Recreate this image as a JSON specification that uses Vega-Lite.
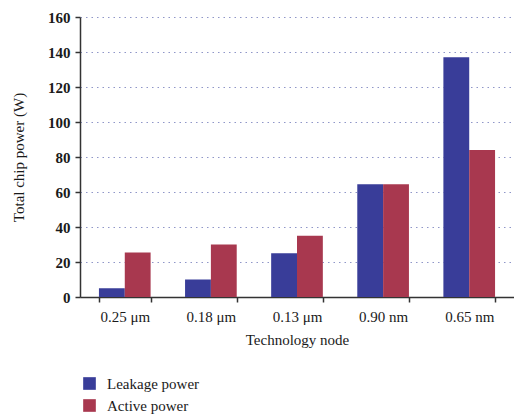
{
  "$schema": "https://vega.github.io/schema/vega-lite/v6.json",
  "autosize": {"type": "none"},
  "width": 434,
  "height": 280,
  "padding": {"left": 80, "top": 17, "right": 0, "bottom": 123},
  "background": "white",
  "data": {
    "values": [
      {"node": "0.25 μm", "series": "Leakage power", "power": 5},
      {"node": "0.25 μm", "series": "Active power", "power": 25.5},
      {"node": "0.18 μm", "series": "Leakage power", "power": 10},
      {"node": "0.18 μm", "series": "Active power", "power": 30},
      {"node": "0.13 μm", "series": "Leakage power", "power": 25},
      {"node": "0.13 μm", "series": "Active power", "power": 35},
      {"node": "0.90 nm", "series": "Leakage power", "power": 64.5},
      {"node": "0.90 nm", "series": "Active power", "power": 64.5},
      {"node": "0.65 nm", "series": "Leakage power", "power": 137},
      {"node": "0.65 nm", "series": "Active power", "power": 84}
    ]
  },
  "mark": {"type": "bar"},
  "encoding": {
    "x": {
      "field": "node",
      "type": "nominal",
      "sort": null,
      "scale": {"paddingInner": 0.4, "paddingOuter": 0.22},
      "axis": {
        "title": "Technology node",
        "labelAngle": 0,
        "tickBand": "extent",
        "labelFont": "Liberation Serif",
        "labelFontSize": 15,
        "labelColor": "#1a1a1a",
        "labelPadding": 7,
        "titleFont": "Liberation Serif",
        "titleFontSize": 15,
        "titleFontWeight": "normal",
        "titleColor": "#1a1a1a",
        "titlePadding": 8,
        "domainColor": "#333333",
        "domainWidth": 1.5,
        "tickColor": "#333333",
        "tickSize": 5,
        "tickWidth": 1.5
      }
    },
    "xOffset": {"field": "series", "type": "nominal", "sort": ["Leakage power", "Active power"]},
    "y": {
      "field": "power",
      "type": "quantitative",
      "scale": {"domain": [0, 160]},
      "axis": {
        "title": "Total chip power (W)",
        "values": [0, 20, 40, 60, 80, 100, 120, 140, 160],
        "labelFont": "Liberation Serif",
        "labelFontSize": 15,
        "labelFontWeight": "bold",
        "labelColor": "#1a1a1a",
        "labelPadding": 5,
        "titleFont": "Liberation Serif",
        "titleFontSize": 15,
        "titleFontWeight": "normal",
        "titleColor": "#1a1a1a",
        "titlePadding": 21,
        "domainColor": "#333333",
        "domainWidth": 1.5,
        "tickColor": "#333333",
        "tickSize": 5,
        "tickWidth": 1.5,
        "grid": true,
        "gridColor": "#8f96c8",
        "gridDash": [1.5, 4],
        "gridWidth": 1.2
      }
    },
    "color": {
      "field": "series",
      "type": "nominal",
      "sort": ["Leakage power", "Active power"],
      "scale": {"domain": ["Leakage power", "Active power"], "range": ["#393d99", "#a8384f"]},
      "legend": {
        "title": null,
        "orient": "none",
        "legendX": 2,
        "legendY": 359,
        "direction": "vertical",
        "symbolType": "square",
        "symbolSize": 160,
        "symbolOpacity": 1,
        "labelFont": "Liberation Serif",
        "labelFontSize": 15,
        "labelColor": "#1a1a1a",
        "labelOffset": 10,
        "rowPadding": 6
      }
    }
  },
  "config": {"view": {"stroke": null}}
}
